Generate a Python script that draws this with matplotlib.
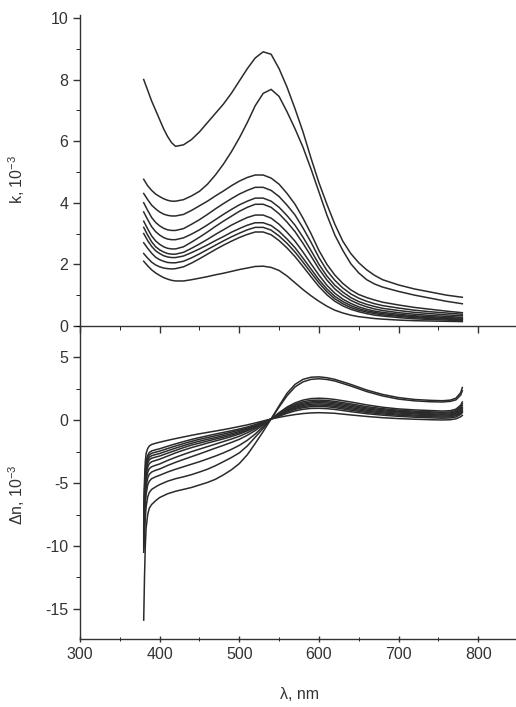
import numpy as np
import matplotlib
matplotlib.use("Agg")
import matplotlib.pyplot as plt
from matplotlib.ticker import MultipleLocator

plt.rcParams['font.family'] = ['Liberation Sans', 'DejaVu Sans']
plt.rcParams['mathtext.fontset'] = 'custom'
plt.rcParams['mathtext.rm'] = 'Liberation Sans'
plt.rcParams['mathtext.it'] = 'Liberation Sans'
plt.rcParams['axes.unicode_minus'] = False

# wavelength grid for absorption spectra, nm
wl_k = [380, 385, 390, 395, 400, 405, 410, 415, 420, 430, 440, 450, 460, 470,
        480, 490, 500, 510, 520, 530, 540, 550, 560, 570, 580, 590, 600, 610,
        620, 630, 640, 650, 660, 670, 680, 700, 720, 740, 760, 780]

# k, 10^-3
k1 = [8.0, 7.65, 7.3, 7.0, 6.7, 6.4, 6.15, 5.95, 5.83, 5.88, 6.05, 6.3, 6.6, 6.9,
      7.2, 7.55, 7.95, 8.35, 8.7, 8.9, 8.82, 8.35, 7.75, 7.05, 6.3, 5.45, 4.65, 3.95,
      3.3, 2.75, 2.35, 2.05, 1.82, 1.64, 1.5, 1.33, 1.2, 1.1, 1.0, 0.93]
k2 = [4.76, 4.55, 4.4, 4.28, 4.2, 4.13, 4.08, 4.05, 4.05, 4.1, 4.22, 4.37, 4.6, 4.9,
      5.25, 5.65, 6.1, 6.6, 7.15, 7.55, 7.68, 7.45, 6.95, 6.4, 5.8, 5.1, 4.35, 3.6,
      2.95, 2.45, 2.02, 1.72, 1.5, 1.36, 1.26, 1.12, 1.0, 0.9, 0.8, 0.72]
k3 = [4.3, 4.1, 3.92, 3.8, 3.7, 3.63, 3.59, 3.57, 3.57, 3.62, 3.75, 3.9, 4.05, 4.22,
      4.38, 4.55, 4.7, 4.82, 4.9, 4.9, 4.8, 4.6, 4.3, 3.95, 3.5, 3.0, 2.45, 2.0,
      1.65, 1.38, 1.17, 1.02, 0.92, 0.84, 0.77, 0.68, 0.6, 0.54, 0.48, 0.43]
k4 = [4.0, 3.75, 3.52, 3.36, 3.25, 3.17, 3.12, 3.1, 3.1, 3.16, 3.3, 3.45, 3.62, 3.8,
      3.97, 4.13, 4.28, 4.4, 4.5, 4.5, 4.4, 4.2, 3.92, 3.6, 3.18, 2.72, 2.22, 1.8,
      1.48, 1.23, 1.04, 0.9, 0.8, 0.72, 0.66, 0.58, 0.51, 0.46, 0.42, 0.38]
k5 = [3.7, 3.45, 3.22, 3.06, 2.95, 2.87, 2.82, 2.8, 2.8, 2.86, 2.98, 3.12, 3.28, 3.45,
      3.62, 3.78, 3.93, 4.05, 4.15, 4.15, 4.05, 3.85, 3.58, 3.27, 2.88, 2.45, 2.0, 1.62,
      1.32, 1.1, 0.92, 0.79, 0.7, 0.63, 0.57, 0.5, 0.44, 0.4, 0.36, 0.33]
k6 = [3.4, 3.15, 2.92, 2.76, 2.65, 2.57, 2.52, 2.5, 2.5, 2.57, 2.72, 2.88, 3.05, 3.23,
      3.4, 3.56, 3.72, 3.85, 3.95, 3.95, 3.85, 3.64, 3.37, 3.06, 2.68, 2.27, 1.85, 1.49,
      1.2, 0.99, 0.83, 0.71, 0.62, 0.55, 0.5, 0.43, 0.38, 0.34, 0.31, 0.28]
k7 = [3.2, 2.95, 2.73, 2.57, 2.47, 2.4, 2.35, 2.33, 2.33, 2.39, 2.52, 2.66, 2.81, 2.97,
      3.12, 3.27, 3.4, 3.52, 3.6, 3.6, 3.5, 3.3, 3.04, 2.75, 2.4, 2.02, 1.65, 1.32,
      1.06, 0.87, 0.73, 0.62, 0.54, 0.48, 0.44, 0.38, 0.33, 0.3, 0.27, 0.25]
k8 = [3.0, 2.77, 2.58, 2.44, 2.35, 2.28, 2.24, 2.22, 2.22, 2.27, 2.38, 2.5, 2.63, 2.77,
      2.9, 3.04, 3.16, 3.27, 3.35, 3.35, 3.26, 3.07, 2.82, 2.54, 2.2, 1.85, 1.5, 1.2,
      0.96, 0.79, 0.66, 0.56, 0.49, 0.44, 0.4, 0.34, 0.3, 0.27, 0.24, 0.22]
k9 = [2.7, 2.52, 2.36, 2.23, 2.15, 2.1, 2.06, 2.05, 2.05, 2.1, 2.21, 2.34, 2.48, 2.62,
      2.76, 2.89, 3.01, 3.12, 3.2, 3.2, 3.11, 2.92, 2.68, 2.4, 2.07, 1.73, 1.4, 1.11,
      0.88, 0.72, 0.6, 0.51, 0.45, 0.4, 0.36, 0.31, 0.27, 0.24, 0.22, 0.2]
k10 = [2.35, 2.2, 2.07, 1.98, 1.92, 1.88, 1.86, 1.85, 1.86, 1.92, 2.04, 2.18, 2.33, 2.48,
       2.62, 2.75, 2.87, 2.97, 3.05, 3.05, 2.96, 2.77, 2.53, 2.25, 1.93, 1.6, 1.28, 1.01,
       0.8, 0.65, 0.54, 0.46, 0.4, 0.35, 0.32, 0.27, 0.23, 0.21, 0.19, 0.17]
k11 = [2.1, 1.95, 1.82, 1.72, 1.64, 1.57, 1.52, 1.48, 1.46, 1.46, 1.5, 1.55, 1.6, 1.66,
       1.71, 1.77, 1.83, 1.88, 1.93, 1.94, 1.9, 1.8, 1.62, 1.4, 1.18, 0.98, 0.8, 0.64,
       0.51, 0.42, 0.35, 0.3, 0.27, 0.24, 0.22, 0.19, 0.17, 0.16, 0.15, 0.14]

# wavelength grid for refractive index change, nm
wl_n = [380, 381, 382, 383, 385, 387, 390, 395, 400, 410, 420, 430, 440, 450,
        460, 470, 480, 490, 500, 510, 520, 530, 540, 550, 560, 570, 580, 590,
        600, 610, 620, 640, 660, 680, 700, 720, 740, 755, 765, 772, 778, 780]

# delta n, 10^-3
n1 = [-15.9, -12.5, -10.0, -8.6, -7.5, -7.0, -6.7, -6.4, -6.15, -5.85, -5.65, -5.5, -5.35, -5.15,
      -4.95, -4.7, -4.35, -3.95, -3.45, -2.75, -1.85, -0.9, 0.1, 1.15, 2.15, 2.85, 3.25, 3.42,
      3.45, 3.38, 3.25, 2.85, 2.4, 2.05, 1.8, 1.65, 1.58, 1.55, 1.6, 1.75, 2.2, 2.6]
n2 = [-10.5, -9.0, -7.8, -6.9, -6.1, -5.75, -5.5, -5.3, -5.12, -4.85, -4.65, -4.5, -4.33, -4.12,
      -3.9, -3.62, -3.3, -2.97, -2.6, -2.05, -1.35, -0.65, 0.1, 1.05, 1.95, 2.65, 3.05, 3.25,
      3.3, 3.24, 3.12, 2.72, 2.28, 1.93, 1.68, 1.54, 1.47, 1.45, 1.5, 1.62, 2.0, 2.35]
n3 = [-10.2, -8.2, -6.8, -5.9, -5.15, -4.85, -4.65, -4.5, -4.38, -4.12, -3.9, -3.7, -3.5, -3.3,
      -3.08, -2.85, -2.6, -2.32, -2.0, -1.6, -1.1, -0.5, 0.1, 0.6, 1.05, 1.38, 1.6, 1.72,
      1.75, 1.72, 1.65, 1.45, 1.22, 1.03, 0.9, 0.82, 0.77, 0.73, 0.76, 0.88, 1.2, 1.45]
n4 = [-10.0, -7.7, -6.2, -5.3, -4.6, -4.3, -4.12, -3.98, -3.88, -3.6, -3.35, -3.12, -2.9, -2.68,
      -2.45, -2.22, -2.0, -1.77, -1.52, -1.2, -0.82, -0.37, 0.1, 0.55, 0.97, 1.27, 1.47, 1.58,
      1.6, 1.57, 1.5, 1.3, 1.08, 0.92, 0.8, 0.72, 0.67, 0.63, 0.66, 0.77, 1.07, 1.3]
n5 = [-9.8, -7.2, -5.7, -4.8, -4.15, -3.85, -3.7, -3.58, -3.48, -3.2, -2.95, -2.72, -2.5, -2.3,
      -2.1, -1.9, -1.7, -1.5, -1.28, -1.0, -0.68, -0.3, 0.1, 0.5, 0.9, 1.18, 1.36, 1.46,
      1.5, 1.47, 1.4, 1.2, 0.98, 0.83, 0.72, 0.64, 0.59, 0.56, 0.58, 0.68, 0.95, 1.15]
n6 = [-9.6, -6.8, -5.2, -4.4, -3.75, -3.45, -3.3, -3.2, -3.1, -2.85, -2.6, -2.38, -2.18, -2.0,
      -1.82, -1.65, -1.48, -1.3, -1.1, -0.85, -0.57, -0.25, 0.1, 0.47, 0.84, 1.1, 1.27, 1.37,
      1.4, 1.37, 1.3, 1.1, 0.89, 0.75, 0.65, 0.57, 0.51, 0.48, 0.5, 0.6, 0.83, 1.0]
n7 = [-9.4, -6.4, -4.8, -4.0, -3.42, -3.15, -3.02, -2.93, -2.85, -2.62, -2.4, -2.18, -1.98, -1.82,
      -1.66, -1.5, -1.35, -1.18, -1.0, -0.78, -0.52, -0.22, 0.1, 0.44, 0.78, 1.02, 1.18, 1.27,
      1.3, 1.27, 1.2, 1.0, 0.8, 0.67, 0.57, 0.5, 0.44, 0.41, 0.43, 0.52, 0.74, 0.9]
n8 = [-9.2, -6.0, -4.5, -3.75, -3.2, -2.95, -2.82, -2.73, -2.65, -2.43, -2.22, -2.02, -1.83, -1.67,
      -1.52, -1.38, -1.23, -1.07, -0.9, -0.7, -0.47, -0.2, 0.1, 0.4, 0.71, 0.94, 1.09, 1.17,
      1.2, 1.17, 1.1, 0.9, 0.71, 0.58, 0.48, 0.41, 0.36, 0.33, 0.35, 0.44, 0.65, 0.8]
n9 = [-9.0, -5.7, -4.2, -3.5, -3.0, -2.76, -2.63, -2.54, -2.46, -2.25, -2.05, -1.86, -1.68, -1.52,
      -1.38, -1.24, -1.1, -0.95, -0.8, -0.62, -0.41, -0.16, 0.1, 0.37, 0.64, 0.86, 1.0, 1.08,
      1.1, 1.07, 1.0, 0.8, 0.62, 0.5, 0.4, 0.33, 0.28, 0.25, 0.27, 0.36, 0.56, 0.7]
n10 = [-8.8, -5.4, -3.95, -3.25, -2.8, -2.57, -2.44, -2.35, -2.27, -2.07, -1.88, -1.7, -1.53, -1.38,
       -1.24, -1.1, -0.97, -0.84, -0.7, -0.54, -0.35, -0.13, 0.1, 0.32, 0.55, 0.74, 0.87, 0.94,
       0.95, 0.92, 0.86, 0.68, 0.52, 0.4, 0.31, 0.24, 0.19, 0.16, 0.18, 0.26, 0.46, 0.6]
n11 = [-8.5, -4.8, -3.3, -2.65, -2.25, -2.05, -1.93, -1.83, -1.75, -1.6, -1.46, -1.33, -1.2, -1.08,
       -0.97, -0.86, -0.75, -0.63, -0.5, -0.37, -0.22, -0.06, 0.1, 0.23, 0.35, 0.45, 0.53, 0.58,
       0.6, 0.58, 0.55, 0.42, 0.3, 0.2, 0.13, 0.08, 0.04, 0.02, 0.04, 0.11, 0.28, 0.38]

k_curves = [k1, k2, k3, k4, k5, k6, k7, k8, k9, k10, k11]
n_curves = [n1, n2, n3, n4, n5, n6, n7, n8, n9, n10, n11]

line_c = '#2b2b2b'
text_c = '#333333'

fig = plt.figure(figsize=(5.16, 7.07), dpi=100)
ax1 = fig.add_axes([0.155, 0.539, 0.849, 0.44])
ax2 = fig.add_axes([0.155, 0.0962, 0.849, 0.4428])

for c in k_curves:
    ax1.plot(wl_k, c, color=line_c, lw=1.1)
for c in n_curves:
    ax2.plot(wl_n, c, color=line_c, lw=1.1)

for ax in (ax1, ax2):
    ax.set_xlim(300, 850)
    ax.spines['top'].set_visible(False)
    ax.spines['right'].set_visible(False)
    for s in ('left', 'bottom'):
        ax.spines[s].set_color(text_c)
        ax.spines[s].set_linewidth(1.0)
    ax.xaxis.set_major_locator(MultipleLocator(100))
    ax.xaxis.set_minor_locator(MultipleLocator(50))
    ax.tick_params(colors=text_c, labelsize=11.5, width=1.0)
    ax.tick_params(which='major', length=5)
    ax.tick_params(which='minor', length=3)
    ax.patch.set_alpha(0)

ax1.set_ylim(0, 10.1)
ax1.yaxis.set_major_locator(MultipleLocator(2))
ax1.yaxis.set_minor_locator(MultipleLocator(1))
ax1.tick_params(axis='x', which='both', direction='out', labelbottom=False)
ax1.set_ylabel('k, 10$^{-3}$', fontsize=11.5, color=text_c)
ax1.yaxis.set_label_coords(-0.12, 0.47)

ax2.set_ylim(-17.4, 7.5)
ax2.yaxis.set_major_locator(MultipleLocator(5))
ax2.yaxis.set_minor_locator(MultipleLocator(2.5))
ax2.tick_params(axis='x', which='both', direction='inout')
ax2.set_ylabel('Δn, 10$^{-3}$', fontsize=11.5, color=text_c)
ax2.yaxis.set_label_coords(-0.12, 0.46)
ax2.set_xlabel('λ, nm', fontsize=11.5, color=text_c, labelpad=18)

fig.savefig('out.png', dpi=100)
